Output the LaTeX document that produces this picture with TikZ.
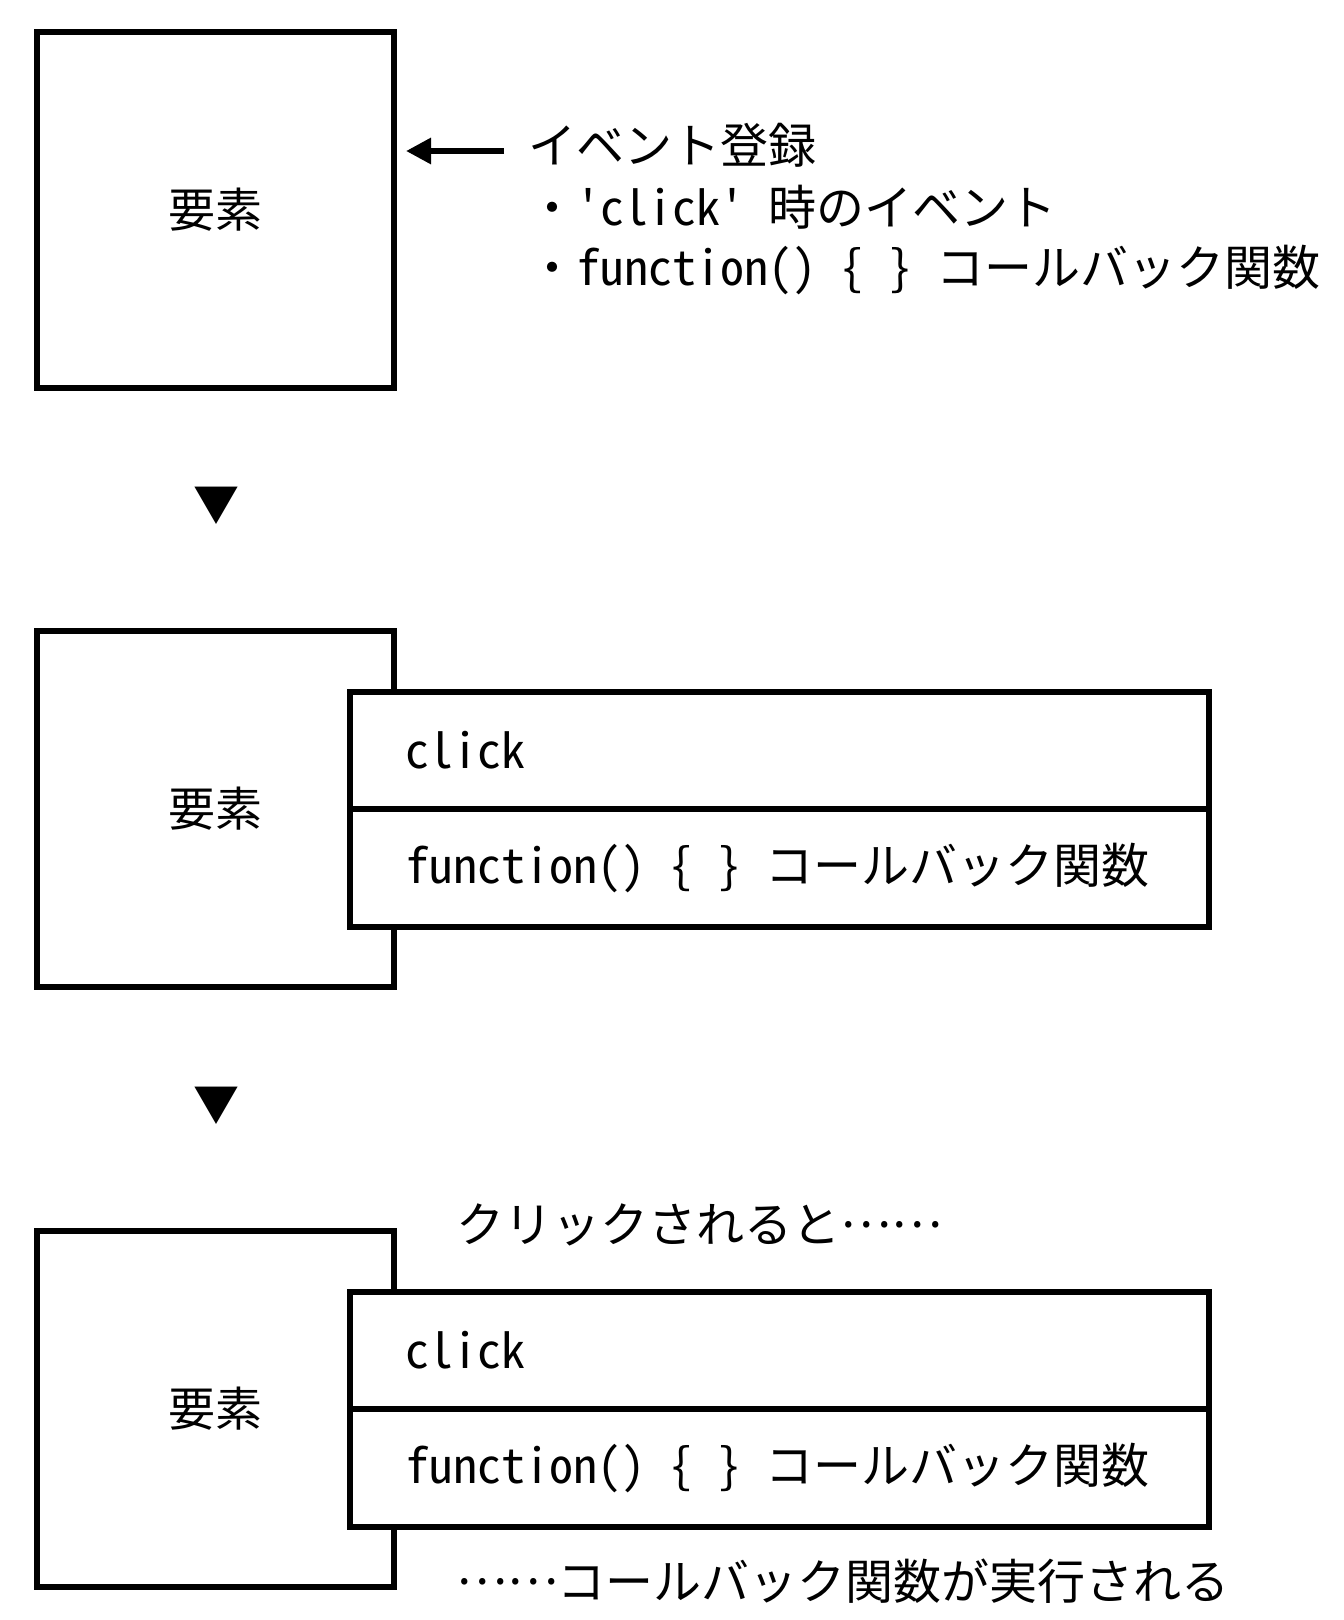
\documentclass[tikz,border=0pt]{standalone}
\usepackage{fontspec}
\newfontfamily\jp{Noto Sans CJK JP}
\newfontfamily\jph[CharacterWidth=Half]{Noto Sans CJK JP}
\newcommand{\hw}[1]{{\jph #1}}
\newcommand{\cellsp}{\hspace{0.5em}}
\newcommand{\jdots}{\raisebox{0.3em}{……}}
\usetikzlibrary{arrows.meta}
\begin{document}
\begin{tikzpicture}[x=1pt,y=-1pt,
  elem/.style={draw,line width=6pt,fill=white,outer sep=0pt,minimum width=357pt,minimum height=356pt,inner sep=0pt,font=\jp\fontsize{47}{56}\selectfont},
  row/.style={draw,line width=6pt,fill=white,outer sep=0pt,minimum width=859pt,minimum height=117.5pt,inner xsep=55pt,inner ysep=0pt,text width=749pt,align=left,font=\jp\fontsize{48}{56}\selectfont},
  txt/.style={inner sep=0pt,font=\jp\fontsize{48}{56}\selectfont},
  tri/.style={inner sep=0pt,font=\jp\fontsize{46}{50}\selectfont},
  regarrow/.style={line width=6pt,-{Triangle[length=25pt,width=25pt]}}
]
\fill[white] (0,0) rectangle (1344,1620);
\useasboundingbox (0,0) rectangle (1344,1620);

% step 1
\node[elem] (e1) at (215.5,209.5) {要素};
\coordinate (as) at (504,151);
\draw[regarrow,shorten >=12pt] (as) -- (as -| e1.east);
\node[txt,anchor=base west] (l1) at (528,163) {イベント登録};
\node[txt,anchor=base west] (l2) at (528,225) {・\hw{'click'}\cellsp 時のイベント};
\node[txt,anchor=base west] (l3) at (528,285) {・\hw{function()}\cellsp\hw{\{}\cellsp\hw{\}}\cellsp コールバック関数};

\node[tri] (t1) at (216,506) {▼};

% step 2
\node[elem] (e2) at (215.5,809) {要素};
\node[row,anchor=south] (r2a) at (779.5,809) {\hw{click}};
\node[row,anchor=north] (r2b) at (779.5,809) {\hw{function()}\cellsp\hw{\{}\cellsp\hw{\}}\cellsp コールバック関数};

\node[tri] (t2) at (216,1106) {▼};

% step 3
\node[txt,anchor=base west] (q1) at (456,1242) {クリックされると\jdots};
\node[elem] (e3) at (215.5,1409) {要素};
\node[row,anchor=south] (r3a) at (779.5,1409) {\hw{click}};
\node[row,anchor=north] (r3b) at (779.5,1409) {\hw{function()}\cellsp\hw{\{}\cellsp\hw{\}}\cellsp コールバック関数};
\node[txt,anchor=base west] (q2) at (456,1599) {\jdots コールバック関数が実行される};
\end{tikzpicture}
\end{document}
